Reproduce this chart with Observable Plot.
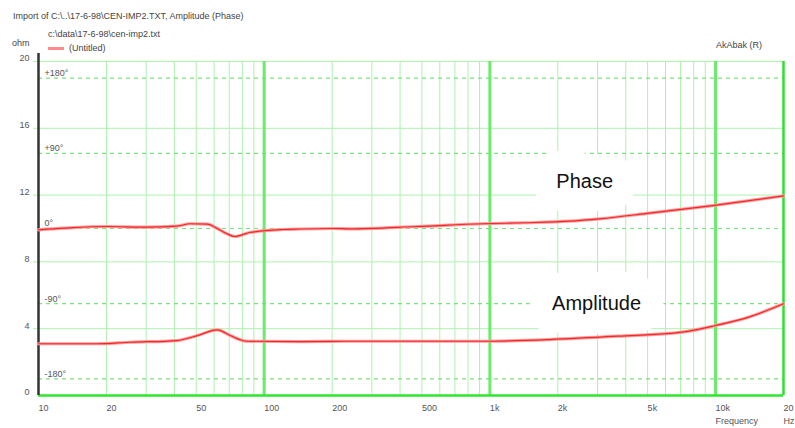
<!DOCTYPE html>
<html>
<head>
<meta charset="utf-8">
<script src="https://cdn.jsdelivr.net/npm/d3@7"></script>
<script src="https://cdn.jsdelivr.net/npm/@observablehq/plot@0.6"></script>
<style>
  html, body { margin: 0; padding: 0; background: #fff; }
  #wrap { position: relative; width: 795px; height: 428px; font-family: "Liberation Sans", Arial, sans-serif; }
  #wrap svg { position: absolute; left: 0; top: 0; }
  .lbl { position: absolute; font-size: 9px; color: #444; white-space: nowrap; line-height: 1; }
  .sw { position: absolute; width: 16px; height: 3px; background: #ff8a8a; }
</style>
</head>
<body>
<div id="wrap">
  <div class="lbl" style="left:13px;top:12px;">Import of C:\..\17-6-98\CEN-IMP2.TXT, Amplitude (Phase)</div>
  <div class="lbl" style="left:48px;top:30px;">c:\data\17-6-98\cen-imp2.txt</div>
  <div class="sw" style="left:48px;top:47px;"></div>
  <div class="lbl" style="left:69px;top:44px;">(Untitled)</div>
  <div class="lbl" style="left:12px;top:39px;">ohm</div>
  <div class="lbl" style="left:716px;top:41px;">AkAbak (R)</div>
</div>
<script>
// ---- data ----
const freqTicks = [10, 20, 50, 100, 200, 500, 1000, 2000, 5000, 10000, 20000];
const freqTickLabels = ["10", "20", "50", "100", "200", "500", "1k", "2k", "5k", "10k", "20"];
const minorFreqs = [20, 30, 40, 50, 60, 70, 80, 90, 200, 300, 400, 500, 600, 700, 800, 900,
                    2000, 3000, 4000, 5000, 6000, 7000, 8000, 9000];
const majorFreqs = [100, 1000, 10000];
const ohmTicks = [0, 4, 8, 12, 16, 20];
const ohmTickLabels = ["0", "4", "8", "12", "16", "20"];
const phaseTicks = [180, 90, 0, -90, -180];
const phaseTickLabels = ["+180°", "+90°", "0°", "-90°", "-180°"];

const phaseFreq = [10, 13, 20, 30, 41, 47, 56, 62, 68, 74, 86, 121, 144, 202, 240, 475, 930, 1450, 2250, 3050, 5100, 9700, 20000];
const phaseDeg  = [-1.6, 0.4, 2.4, 1.6, 2.8, 5.7, 5.2, 0, -6, -9.6, -4.8, -1.2, -0.6, 0, -0.4, 2.4, 5.7, 6.9, 8.8, 11.6, 18.4, 27.5, 39];

const ampFreq = [10, 18, 25.5, 41, 50.6, 62, 70.7, 84, 144, 240, 930, 1840, 3680, 7100, 10000, 14000, 20000];
const ampOhm  = [3.10, 3.10, 3.19, 3.29, 3.59, 3.93, 3.59, 3.25, 3.23, 3.25, 3.25, 3.35, 3.55, 3.79, 4.19, 4.69, 5.49];

const curveLabels = ["Phase", "Amplitude"];
const curveLabelFreq = [2630, 2970];
const curveLabelOhm = [12.8, 5.5];

// phase (degrees) drawn on the ohm scale: ±200° spans 0..20 ohm
const phaseToOhm = d => 10 + d / 20;

const phaseData = phaseFreq.map((f, i) => ({f, v: phaseToOhm(phaseDeg[i])}));
const ampData = ampFreq.map((f, i) => ({f, v: ampOhm[i]}));
const labelData = curveLabels.map((t, i) => ({t, f: curveLabelFreq[i], v: curveLabelOhm[i]}));

const font = "Liberation Sans, Arial, sans-serif";

const chart = Plot.plot({
  width: 795,
  height: 428,
  marginLeft: 38,
  marginRight: 12,
  marginTop: 61,
  marginBottom: 33,
  style: {background: "transparent", fontFamily: font, overflow: "visible"},
  x: {type: "log", domain: [10, 20000], axis: null},
  y: {domain: [0, 20], axis: null},
  marks: [
    Plot.ruleX(minorFreqs, {stroke: "#aef2ae", strokeWidth: 1}),
    Plot.ruleY(ohmTicks.filter(d => d > 0), {y: d => d, stroke: "#aef2ae", strokeWidth: 1, insetLeft: -5}),
    Plot.ruleY(phaseTicks, {y: phaseToOhm, stroke: "#7ee07e", strokeWidth: 1.2, strokeDasharray: "4,4"}),
    Plot.ruleX(majorFreqs, {stroke: "#6aec6a", strokeWidth: 3}),
    // curve names on a white mask
    Plot.text(labelData, {x: "f", y: "v", text: "t", fontSize: 20, fill: "#111", stroke: "white", strokeWidth: 46, fontFamily: font}),
    Plot.ruleX([20000], {stroke: "#2ee02e", strokeWidth: 2.5}),
    Plot.ruleY([0], {stroke: "#2ee62e", strokeWidth: 2.5}),
    Plot.ruleX([10], {stroke: "#333", strokeWidth: 2.5, insetTop: -8}),
    // curves
    Plot.line(phaseData, {x: "f", y: "v", stroke: "#ff9a9a", strokeWidth: 3.2, curve: "monotone-x"}),
    Plot.line(phaseData, {x: "f", y: "v", stroke: "#ee2a2a", strokeWidth: 1.2, curve: "monotone-x"}),
    Plot.line(ampData, {x: "f", y: "v", stroke: "#ff9a9a", strokeWidth: 3.2, curve: "monotone-x"}),
    Plot.line(ampData, {x: "f", y: "v", stroke: "#ee2a2a", strokeWidth: 1.2, curve: "monotone-x"}),
    // tick labels
    Plot.text(freqTicks, {x: d => d, text: (d, i) => freqTickLabels[i], frameAnchor: "bottom", dy: 15, textAnchor: "start", fontSize: 9, fill: "#555"}),
    Plot.text(["Frequency"], {x: [10000], text: d => d, frameAnchor: "bottom", dy: 28, textAnchor: "start", fontSize: 9, fill: "#555"}),
    Plot.text(["Hz"], {x: [20000], text: d => d, frameAnchor: "bottom", dy: 28, textAnchor: "start", fontSize: 9, fill: "#555"}),
    Plot.text(ohmTicks, {y: d => d, text: (d, i) => ohmTickLabels[i], frameAnchor: "left", dx: -9, dy: -3, textAnchor: "end", fontSize: 9, fill: "#555"}),
    Plot.text(phaseTicks, {y: phaseToOhm, text: (d, i) => phaseTickLabels[i], frameAnchor: "left", dx: 6, dy: -5, textAnchor: "start", fontSize: 9, fill: "#555"})
  ]
});
document.getElementById("wrap").prepend(chart);
</script>
</body>
</html>
